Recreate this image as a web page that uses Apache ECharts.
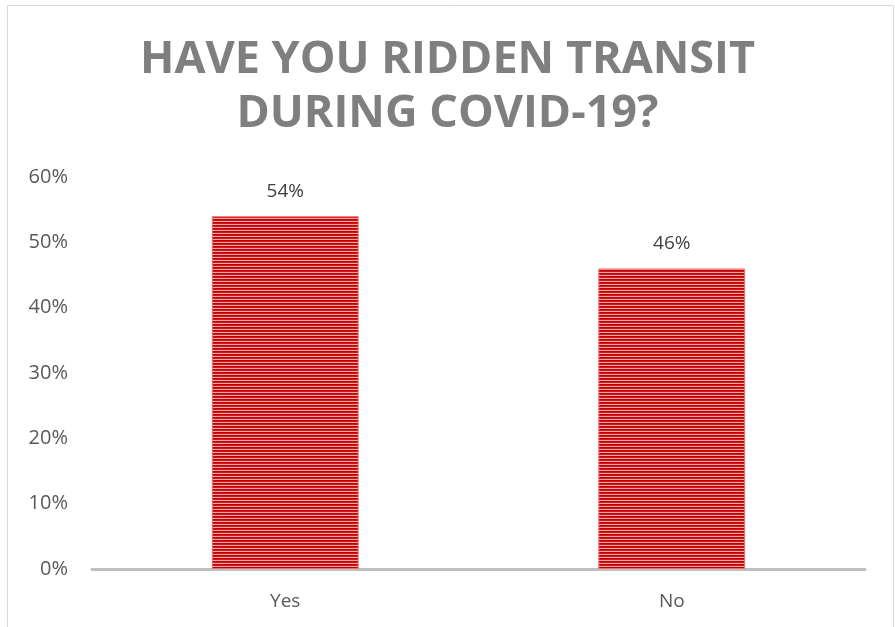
<!DOCTYPE html>
<html>
<head>
<meta charset="utf-8">
<script src="https://cdn.jsdelivr.net/npm/echarts@6/dist/echarts.min.js"></script>
<style>html,body{margin:0;padding:0;background:#fff;}#c{width:895px;height:627px;}</style>
</head>
<body>
<div id="c"></div>
<script>
const categories = ['Yes', 'No'];
const values = [54, 46];
const yTicks = [0, 10, 20, 30, 40, 50, 60];
const titleText = 'HAVE YOU RIDDEN TRANSIT\nDURING COVID-19?';

function stripePattern() {
  const cv = document.createElement('canvas');
  cv.width = 4; cv.height = 3;
  const ctx = cv.getContext('2d');
  ctx.fillStyle = '#c00000'; ctx.fillRect(0, 0, 4, 1);
  ctx.fillStyle = '#cc1818'; ctx.fillRect(0, 1, 4, 1);
  ctx.fillStyle = '#f4a8a8'; ctx.fillRect(0, 2, 4, 1);
  return cv;
}

const chart = echarts.init(document.getElementById('c'), null, {renderer: 'canvas'});
chart.setOption({
  animation: false,
  title: {
    text: titleText,
    left: 'center',
    top: 28,
    textStyle: {
      fontFamily: 'Open Sans',
      fontWeight: 'bold',
      fontSize: 45,
      lineHeight: 54,
      color: '#7f7f7f'
    }
  },
  graphic: [{
    type: 'rect',
    shape: {x: 7.5, y: 5.5, width: 886, height: 640},
    style: {fill: 'none', stroke: '#d9d9d9', lineWidth: 1},
    silent: true
  }],
  grid: {left: 92, right: 30, top: 177, bottom: 58, containLabel: false},
  xAxis: {
    type: 'category',
    data: categories,
    axisLine: {show: true, lineStyle: {color: '#bfbfbf', width: 3}},
    axisTick: {show: false},
    axisLabel: {color: '#595959', fontSize: 19, fontFamily: 'Open Sans', margin: 23}
  },
  yAxis: {
    type: 'value',
    min: yTicks[0],
    max: yTicks[yTicks.length - 1],
    interval: 10,
    axisLine: {show: false},
    axisTick: {show: false},
    splitLine: {show: false},
    axisLabel: {color: '#595959', fontSize: 20, fontFamily: 'Open Sans', margin: 24, formatter: v => v + '%'}
  },
  series: [{
    type: 'bar',
    data: values,
    barWidth: '38%',
    itemStyle: {color: {image: stripePattern(), repeat: 'repeat'}, borderColor: '#e87070', borderWidth: 1},
    label: {
      show: true,
      position: 'top',
      distance: 15,
      color: '#404040',
      fontSize: 19,
      fontFamily: 'Open Sans',
      formatter: p => p.value + '%'
    }
  }]
});
</script>
</body>
</html>
